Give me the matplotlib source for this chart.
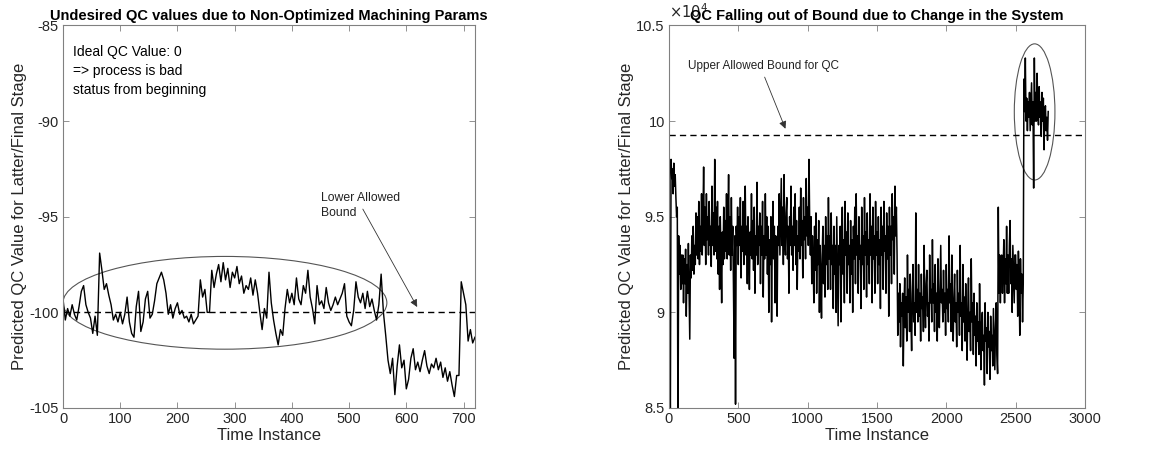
import numpy as np
import matplotlib
matplotlib.use("Agg")
import matplotlib.pyplot as plt
from matplotlib.patches import Ellipse

plt.rcParams['font.family'] = ['Liberation Sans', 'DejaVu Sans']
plt.rcParams['axes.unicode_minus'] = False

# ---------------- data: left panel (QC value, every 4 time instances) ----------------
left_values = [
    -99.3, -100.4, -99.8, -100.2, -99.6, -100.1, -100.4, -99.7, -98.9, -98.6,
    -99.6, -100.0, -100.3, -101.1, -100.2, -101.2, -96.9, -97.8, -98.8, -98.5,
    -99.1, -99.6, -100.4, -100.1, -100.5, -100.0, -100.6, -100.1, -99.2, -100.5,
    -101.1, -101.3, -99.7, -98.9, -101.0, -100.5, -99.3, -98.9, -100.3, -100.1,
    -99.4, -98.5, -98.2, -97.9, -98.3, -99.0, -100.1, -99.6, -100.3, -99.8,
    -99.5, -100.1, -99.9, -100.3, -100.2, -100.5, -100.1, -100.6, -100.4, -100.2,
    -98.3, -99.2, -98.8, -100.0, -100.0, -97.8, -98.7, -98.0, -97.5, -98.4,
    -97.4, -98.3, -97.7, -98.7, -97.9, -98.2, -97.6, -98.5, -98.1, -99.0,
    -98.6, -98.8, -98.2, -99.1, -98.3, -99.0, -100.0, -100.9, -99.8, -100.3,
    -97.9, -99.5, -100.4, -101.1, -101.7, -100.9, -101.2, -99.8, -98.8, -99.5,
    -99.0, -99.6, -98.2, -99.3, -99.6, -98.6, -99.0, -97.8, -99.2, -99.8,
    -100.6, -98.6, -99.6, -99.4, -99.8, -98.7, -99.5, -99.9, -99.6, -99.2,
    -99.6, -99.3, -99.0, -98.5, -100.2, -100.5, -100.7, -99.9, -98.4, -99.2,
    -99.5, -99.0, -99.8, -98.9, -99.7, -99.3, -99.9, -100.4, -99.6, -98.0,
    -100.0, -101.2, -102.5, -103.2, -102.4, -104.3, -102.8, -101.7, -102.9, -102.5,
    -104.0, -103.5, -102.4, -101.9, -103.0, -102.6, -103.1, -102.5, -102.0, -102.8,
    -103.2, -102.7, -102.9, -102.4, -103.0, -102.6, -103.4, -102.9, -103.6, -103.1,
    -103.8, -104.4, -103.3, -103.3, -98.4, -99.0, -99.6, -101.5, -100.9, -101.6,
    -101.3,
]
left_time = np.linspace(0, 720, len(left_values))
left_bound = -100.0

# ---------------- data: right panel (QC value x1e4, every 5 time instances) ----------------
right_values = [
    9.22, 9.00, 8.45, 9.80, 9.70, 9.75, 9.62, 9.78, 9.66, 9.72,
    9.60, 9.50, 9.55, 8.30, 9.40, 9.20, 9.35, 9.12, 9.30, 9.15,
    9.30, 9.05, 9.28, 9.15, 9.33, 8.98, 9.25, 9.10, 9.36, 9.12,
    8.86, 9.30, 9.18, 9.40, 9.22, 9.45, 9.20, 9.35, 9.25, 9.52,
    9.30, 9.50, 9.28, 9.58, 9.25, 9.45, 9.32, 9.62, 9.30, 9.48,
    9.76, 9.35, 9.55, 9.25, 9.62, 9.38, 9.50, 9.30, 9.58, 9.35,
    9.45, 9.24, 9.66, 9.35, 9.52, 9.30, 9.80, 9.32, 9.55, 9.28,
    9.58, 9.20, 9.45, 9.12, 9.50, 9.30, 9.05, 9.42, 9.25, 9.55,
    9.28, 9.48, 9.32, 9.62, 9.28, 9.45, 9.72, 9.30, 9.50, 9.22,
    9.60, 9.30, 9.45, 9.15, 8.76, 9.40, 8.52, 9.45, 9.35, 9.55,
    9.25, 9.50, 9.35, 9.60, 9.18, 9.45, 9.32, 9.58, 9.25, 9.48,
    9.66, 9.30, 9.45, 9.15, 9.50, 9.35, 9.12, 9.42, 9.30, 9.62,
    9.28, 9.48, 9.22, 9.55, 9.10, 9.40, 9.30, 9.68, 9.25, 9.45,
    9.35, 9.52, 9.15, 9.45, 9.30, 9.58, 9.08, 9.40, 9.28, 9.62,
    9.30, 9.50, 9.20, 9.45, 9.00, 9.38, 9.25, 9.50, 8.95, 9.40,
    9.58, 9.28, 9.45, 9.05, 9.40, 9.30, 8.98, 9.45, 9.35, 9.62,
    9.30, 9.50, 9.70, 9.35, 9.55, 9.25, 9.72, 9.40, 9.30, 9.52,
    9.60, 9.28, 9.45, 9.10, 9.50, 9.35, 9.66, 9.30, 9.45, 9.22,
    9.55, 9.35, 9.62, 9.25, 9.48, 9.12, 9.40, 9.32, 9.55, 9.28,
    9.65, 9.35, 9.48, 9.18, 9.60, 9.38, 9.50, 9.28, 9.70, 9.40,
    9.55, 9.35, 9.80, 9.45, 9.30, 9.50, 9.15, 9.40, 9.25, 9.05,
    9.45, 9.22, 9.52, 9.10, 9.38, 9.25, 9.48, 9.00, 9.35, 9.20,
    8.97, 9.30, 9.45, 9.15, 9.35, 9.08, 9.50, 9.25, 9.40, 9.12,
    9.60, 9.28, 9.40, 9.12, 9.52, 9.25, 9.35, 9.02, 9.45, 9.20,
    9.35, 9.00, 9.50, 9.22, 8.93, 9.35, 9.25, 9.45, 8.95, 9.30,
    9.55, 9.20, 9.38, 9.05, 9.58, 9.30, 9.42, 9.10, 9.52, 9.25,
    9.35, 9.05, 9.48, 9.20, 9.38, 9.00, 9.45, 9.28, 9.55, 9.15,
    9.62, 9.30, 9.40, 9.10, 9.50, 9.28, 9.35, 9.02, 9.55, 9.25,
    9.40, 9.12, 9.60, 9.30, 9.42, 9.08, 9.52, 9.25, 9.38, 9.15,
    9.62, 9.30, 9.45, 9.05, 9.55, 9.28, 9.40, 9.10, 9.58, 9.30,
    9.42, 9.15, 9.50, 9.25, 9.38, 9.02, 9.55, 9.30, 9.45, 9.12,
    9.58, 9.32, 9.40, 9.10, 9.52, 9.28, 9.45, 8.98, 9.55, 9.30,
    9.45, 9.15, 9.62, 9.38, 9.50, 9.20, 9.66, 9.40, 9.55, 9.30,
    8.88, 9.10, 8.95, 9.15, 8.82, 9.05, 8.98, 9.10, 8.72, 9.02,
    9.18, 8.92, 9.08, 8.85, 9.30, 9.00, 9.12, 8.90, 9.20, 8.95,
    8.80, 9.10, 9.25, 8.95, 9.05, 8.88, 9.52, 9.00, 9.12, 8.95,
    9.25, 8.98, 9.10, 8.85, 9.20, 9.02, 9.08, 8.90, 9.35, 9.05,
    8.92, 9.15, 9.22, 8.98, 9.05, 8.85, 9.30, 9.05, 9.12, 8.95,
    9.38, 9.05, 9.15, 8.90, 9.25, 9.00, 9.10, 8.85, 9.28, 9.02,
    8.92, 9.15, 9.35, 9.05, 9.12, 8.95, 9.22, 9.00, 9.10, 8.88,
    9.25, 9.02, 9.12, 8.95, 9.40, 9.05, 9.15, 8.90, 9.30, 9.00,
    8.85, 9.08, 9.20, 8.95, 9.05, 8.82, 9.22, 9.00, 9.10, 8.88,
    9.35, 8.98, 9.05, 8.80, 9.25, 8.95, 9.08, 8.85, 9.15, 8.92,
    8.75, 9.02, 9.18, 8.90, 9.00, 8.80, 9.28, 8.95, 9.05, 8.78,
    9.10, 8.88, 8.98, 8.72, 9.05, 8.85, 8.95, 8.78, 9.15, 8.90,
    8.70, 8.95, 9.00, 8.80, 8.88, 8.62, 9.05, 8.85, 8.92, 8.68,
    9.00, 8.82, 8.90, 8.65, 8.98, 8.80, 8.88, 8.72, 9.02, 8.85,
    8.70, 8.92, 9.05, 8.78, 8.68, 9.55, 9.10, 9.30, 9.05, 9.25,
    9.30, 9.10, 9.22, 9.38, 9.05, 9.28, 9.15, 9.45, 9.10, 9.30,
    9.10, 9.35, 9.48, 9.15, 9.28, 9.00, 9.35, 9.20, 9.05, 9.30,
    9.30, 9.12, 9.25, 8.98, 9.32, 9.15, 8.88, 9.28, 9.10, 9.20,
    8.95, 9.15, 10.22, 10.05, 10.33, 10.00, 10.12, 9.95, 10.10, 10.02,
    10.15, 9.95, 10.08, 10.20, 9.98, 10.10, 9.65, 10.33, 10.00, 10.15,
    10.00, 10.25, 10.05, 9.98, 10.18, 10.02, 10.10, 9.92, 10.15, 10.00,
    10.12, 9.85, 10.05, 10.08, 9.95, 10.02, 9.90, 10.05,
]
right_time = np.arange(len(right_values)) * 5
right_bound = 9.925

left_ticks_x = [0, 100, 200, 300, 400, 500, 600, 700]
left_ticks_y = [-105, -100, -95, -90, -85]
right_ticks_x = [0, 500, 1000, 1500, 2000, 2500, 3000]
right_ticks_y = [8.5, 9, 9.5, 10, 10.5]
right_tick_labels_y = ['8.5', '9', '9.5', '10', '10.5']

title_left = "Undesired QC values due to Non-Optimized Machining Params"
title_right = "QC Falling out of Bound due to Change in the System"
xlabel = "Time Instance"
ylabel = "Predicted QC Value for Latter/Final Stage"

# ---------------- figure ----------------
fig = plt.figure(figsize=(11.52, 4.55), dpi=100)
axL = fig.add_axes([0.0547, 0.1033, 0.3576, 0.8407])
axR = fig.add_axes([0.5807, 0.1033, 0.3611, 0.8407])

axis_gray = '#262626'
for ax in (axL, axR):
    for s in ax.spines.values():
        s.set_color('#808080')
        s.set_linewidth(0.8)
    ax.tick_params(direction='in', top=True, right=True, length=4, width=0.6,
                   color='#808080', labelsize=10.5, labelcolor=axis_gray, pad=3)
    ax.set_xlabel(xlabel, fontsize=12, color=axis_gray, labelpad=1)
    ax.set_ylabel(ylabel, fontsize=12, color=axis_gray, labelpad=2)

# Left panel
axL.plot(left_time, left_values, color='black', lw=1.0)
axL.axhline(left_bound, color='black', lw=1.0, ls=(0, (4.5, 3)))
axL.set_xlim(0, 720)
axL.set_ylim(-105, -85)
axL.set_xticks(left_ticks_x)
axL.set_yticks(left_ticks_y)
axL.set_title(title_left, fontsize=10.5, fontweight='bold', pad=4)
axL.add_patch(Ellipse((283, -99.5), 566, 4.85, fill=False, edgecolor='#555555', lw=0.8))
axL.text(18, -86.0, "Ideal QC Value: 0\n=> process is bad\nstatus from beginning",
         fontsize=10, va='top', ha='left', color='black', linespacing=1.45)
axL.text(451, -93.7, "Lower Allowed\nBound", fontsize=8.8, va='top', ha='left',
         color='#222222', linespacing=1.35)
axL.annotate('', xy=(619, -99.72), xytext=(524, -94.6),
             arrowprops=dict(arrowstyle='-|>', color='#333333', lw=0.6,
                             mutation_scale=11, shrinkA=0, shrinkB=0))

# Right panel
axR.plot(right_time, right_values, color='black', lw=1.1)
axR.axhline(right_bound, color='black', lw=1.0, ls=(0, (4.5, 3)))
axR.set_xlim(0, 3000)
axR.set_ylim(8.5, 10.5)
axR.set_xticks(right_ticks_x)
axR.set_yticks(right_ticks_y)
axR.set_yticklabels(right_tick_labels_y)
axR.add_patch(Ellipse((2637, 10.048), 293, 0.712, fill=False, edgecolor='#555555', lw=0.8))
axR.text(0.0, 1.012, r'$\times 10^{4}$', transform=axR.transAxes, fontsize=10.5,
         color=axis_gray, va='bottom', ha='left')
axR.set_title(title_right, fontsize=10.5, fontweight='bold', pad=4)
axR.text(140, 10.29, "Upper Allowed Bound for QC", fontsize=8.5, va='center', ha='left',
         color='#222222')
axR.annotate('', xy=(840, 9.96), xytext=(690, 10.23),
             arrowprops=dict(arrowstyle='-|>', color='#333333', lw=0.6,
                             mutation_scale=11, shrinkA=0, shrinkB=0))

fig.savefig('out.png', dpi=100)
